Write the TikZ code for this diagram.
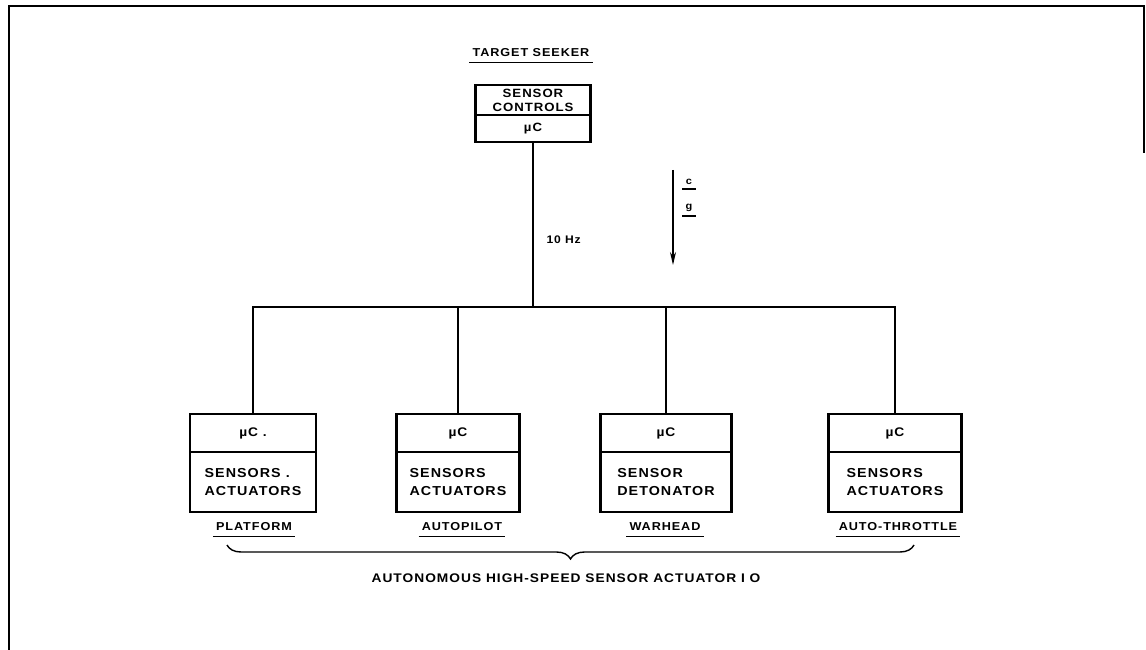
\documentclass[tikz,border=0pt]{standalone}
\usepackage{fontspec}
\setmainfont{Liberation Sans}[FakeStretch=1.1,LetterSpace=8]
\usetikzlibrary{positioning,arrows.meta,decorations.pathreplacing}
\tikzset{
  part/.style={draw,line width=1.5pt,minimum width=#1,inner sep=0pt,outer sep=0pt,align=left},
  upper/.style={part=#1,minimum height=30pt,align=center,font=\bfseries\fontsize{12}{14}\selectfont},
  lower/.style={part=#1,minimum height=27pt,font=\bfseries\fontsize{12}{14}\selectfont},
  mcpart/.style={part=#1,minimum height=38pt,font=\bfseries\fontsize{12.5}{14}\selectfont},
  iopart/.style={part=#1,minimum height=60pt,font=\bfseries\fontsize{13}{18}\selectfont},
  frame/.style={line width=2.6pt},
  wire/.style={line width=1.4pt},
  tag/.style={font=\bfseries\fontsize{11.5}{12}\selectfont,inner xsep=3pt},
  uline/.style={line width=1.6pt},
  brace/.style={line width=1.4pt,decorate,decoration={brace,mirror,amplitude=14pt}}
}
\begin{document}
\begin{tikzpicture}[x=1pt,y=-1pt]
    \useasboundingbox (0,0) rectangle (1146,650);
    \draw[line width=1.5pt] (9,650) -- (9,6) -- (1144,6) -- (1144,153);

    % target seeker
    \node[tag] (tslbl) at (531,53) {TARGET SEEKER};
    \draw[uline] ([yshift=-2pt]tslbl.south west) -- ([yshift=-2pt]tslbl.south east);
    \node[upper=115pt] (ts) at (533,100) {SENSOR\\CONTROLS};
    \node[lower=115pt,below=0pt of ts] (tsmc) {µC};
    \draw[frame] (ts.north west) rectangle (tsmc.south east);

    \node[anchor=west,font=\bfseries\fontsize{11}{12}\selectfont] (hz) at (543,240) {10 Hz};
    \coordinate (arrtop) at (673,170);
    \coordinate (arrbot) at (673,265);
    \draw[wire,-{Stealth[length=13pt,width=6pt]}] (arrtop) -- (arrbot);
    \node[font=\bfseries\fontsize{10}{11}\selectfont] (c) at (689,182) {c};
    \draw[uline] ([yshift=-1pt]c.south west) -- ([yshift=-1pt]c.south east);
    \node[font=\bfseries\fontsize{10}{11}\selectfont] (g) at (689,208) {g};
    \draw[uline] ([yshift=-1pt]g.south west) -- ([yshift=-1pt]g.south east);

    % the four nodes
    \node[mcpart=126pt] (pfmc) at (253,433) {µC .};
    \node[iopart=126pt,below=0pt of pfmc] (pf) {SENSORS .\\ACTUATORS};
    \node[mcpart=123pt] (apmc) at (458,433) {µC};
    \node[iopart=123pt,below=0pt of apmc] (ap) {SENSORS\\ACTUATORS};
    \node[mcpart=131pt] (whmc) at (666,433) {µC};
    \node[iopart=131pt,below=0pt of whmc] (wh) {SENSOR\\DETONATOR};
    \node[mcpart=133pt] (atmc) at (895,433) {µC};
    \node[iopart=133pt,below=0pt of atmc] (at) {SENSORS\\ACTUATORS};
    \draw[frame] (pfmc.north west) rectangle (pf.south east);
    \draw[frame] (apmc.north west) rectangle (ap.south east);
    \draw[frame] (whmc.north west) rectangle (wh.south east);
    \draw[frame] (atmc.north west) rectangle (at.south east);

    \node[tag] (pflbl) at (254,527) {PLATFORM};
    \node[tag] (aplbl) at (462,527) {AUTOPILOT};
    \node[tag] (whlbl) at (665,527) {WARHEAD};
    \node[tag] (atlbl) at (898,527) {AUTO-THROTTLE};
    \foreach \n in {pflbl,aplbl,whlbl,atlbl}
        \draw[uline] ([yshift=-2pt]\n.south west) -- ([yshift=-2pt]\n.south east);

    % bus
    \coordinate (bus) at (537,307);
    \draw[wire] (tsmc.south) -- (tsmc.south |- bus);
    \draw[wire] (pfmc.north) |- (bus);
    \draw[wire] (atmc.north) |- (bus);
    \draw[wire] (apmc.north) -- (apmc.north |- bus);
    \draw[wire] (whmc.north) -- (whmc.north |- bus);

    \coordinate (bl) at (227,545);
    \coordinate (br) at (914,545);
    \draw[brace] (bl) -- (br);
    \node[font=\bfseries\fontsize{12.5}{14}\selectfont] (io) at (566,578) {AUTONOMOUS HIGH-SPEED SENSOR ACTUATOR I O};
\end{tikzpicture}
\end{document}
